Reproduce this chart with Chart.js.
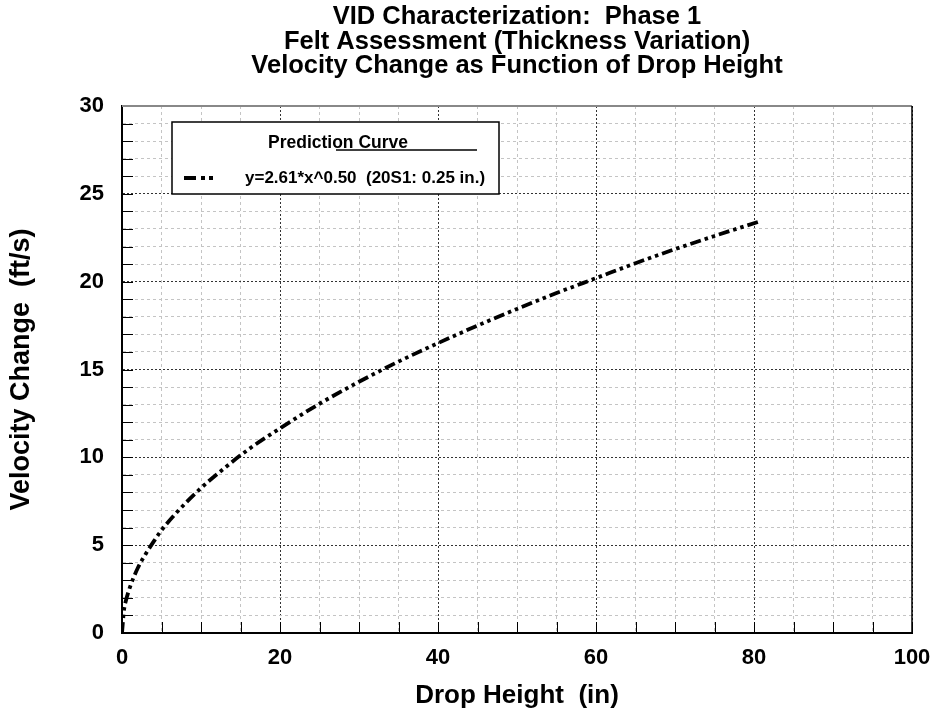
<!DOCTYPE html>
<html>
<head>
<meta charset="utf-8">
<title>VID Characterization: Phase 1</title>
<script src="https://cdn.jsdelivr.net/npm/chart.js@4.4.1/dist/chart.umd.min.js"></script>
<style>
  html, body { margin: 0; padding: 0; background: #fff; }
  #wrap { width: 933px; height: 713px; }
</style>
</head>
<body>
<div id="wrap"><canvas id="vid-chart" width="933" height="713"></canvas></div>
<script>
  // Values
  const dropHeights = [0, 0.25, 0.5, 1, 2, 3, 4, 5, 7, 10, 13, 16, 20, 25, 30, 35, 40, 45, 50, 55, 60, 65, 70, 75, 80.5];
  const velocityChanges = [0, 1.3, 1.85, 2.6, 3.7, 4.5, 5.2, 5.85, 6.9, 8.25, 9.4, 10.45, 11.65, 13.05, 14.3, 15.45, 16.5, 17.5, 18.45, 19.35, 20.2, 21.05, 21.85, 22.6, 23.4];
  const xTickLabels = [0, 20, 40, 60, 80, 100];
  const yTickLabels = [0, 5, 10, 15, 20, 25, 30];

  const titleLines = [
    'VID Characterization:  Phase 1',
    'Felt Assessment (Thickness Variation)',
    'Velocity Change as Function of Drop Height'
  ];
  const legendTitle = 'Prediction Curve';
  const seriesLabel = 'y=2.61*x^0.50  (20S1: 0.25 in.)';

  const FONT = '"Liberation Sans", Arial, Helvetica, sans-serif';
  const CURVE_DASH = [11, 4, 3.5, 4, 3.5, 4];

  Chart.defaults.color = '#000';
  Chart.defaults.font.family = FONT;

  function isMajor(ctx, step) {
    return ctx.tick && Math.abs(ctx.tick.value % step) < 1e-9;
  }

  /**
   * Three-line title, centred over the plot area
   */
  const plotTitle = {
    id: 'plotTitle',
    afterDraw(chart) {
      const { ctx, chartArea: a } = chart;
      const cx = (a.left + a.right) / 2;
      ctx.save();
      ctx.fillStyle = '#000';
      ctx.font = 'bold 25.5px ' + FONT;
      ctx.textAlign = 'center';
      ctx.textBaseline = 'middle';
      titleLines.forEach((line, i) => ctx.fillText(line, cx, 17 + i * 24.5));
      ctx.restore();
    }
  };

  /**
   * Short tick marks pointing into the plot, plus top/right frame
   */
  const frameTicks = {
    id: 'frameTicks',
    afterDatasetsDraw(chart) {
      const { ctx, chartArea: a, scales: { x, y } } = chart;
      ctx.save();
      ctx.strokeStyle = '#000';
      ctx.lineWidth = 1;
      ctx.beginPath();
      x.ticks.forEach(t => {
        const px = Math.round(x.getPixelForValue(t.value)) + 0.5;
        ctx.moveTo(px, a.bottom);
        ctx.lineTo(px, a.bottom - 11);
      });
      y.ticks.forEach(t => {
        const py = Math.round(y.getPixelForValue(t.value)) + 0.5;
        ctx.moveTo(a.left, py);
        ctx.lineTo(a.left + 11, py);
      });
      ctx.stroke();

      // top edge (grey) and right edge
      ctx.strokeStyle = '#888';
      ctx.lineWidth = 2;
      ctx.beginPath();
      ctx.moveTo(a.left, a.top);
      ctx.lineTo(a.right, a.top);
      ctx.stroke();
      ctx.strokeStyle = '#000';
      ctx.lineWidth = 1.5;
      ctx.beginPath();
      ctx.moveTo(a.right, a.top);
      ctx.lineTo(a.right, a.bottom);
      ctx.stroke();
      ctx.restore();
    }
  };

  /**
   * Boxed legend in the upper left of the plot
   */
  const boxLegend = {
    id: 'boxLegend',
    afterDraw(chart) {
      const { ctx, chartArea: a } = chart;
      const ds = chart.data.datasets[0];
      const left = a.left + 50, top = a.top + 16, w = 327, h = 72;

      ctx.save();
      ctx.fillStyle = '#fff';
      ctx.fillRect(left, top, w, h);
      ctx.strokeStyle = '#000';
      ctx.lineWidth = 1.5;
      ctx.strokeRect(left, top, w, h);

      ctx.fillStyle = '#000';
      ctx.textBaseline = 'middle';
      ctx.font = 'bold 17.5px ' + FONT;
      ctx.textAlign = 'center';
      ctx.fillText(legendTitle, left + 166, top + 21);

      // underline
      ctx.lineWidth = 1.5;
      ctx.beginPath();
      ctx.moveTo(left + 164, top + 28);
      ctx.lineTo(left + 305, top + 28);
      ctx.stroke();

      // line sample
      ctx.lineWidth = ds.borderWidth;
      ctx.setLineDash([12, 5, 4, 4, 4]);
      ctx.beginPath();
      ctx.moveTo(left + 12, top + 56);
      ctx.lineTo(left + 41, top + 56);
      ctx.stroke();
      ctx.setLineDash([]);

      ctx.font = 'bold 17px ' + FONT;
      ctx.textAlign = 'left';
      ctx.fillText(ds.label, left + 73, top + 56);
      ctx.restore();
    }
  };

  const ctx = document.getElementById('vid-chart').getContext('2d');

  new Chart(ctx, {
    type: 'line',
    data: {
      datasets: [{
        label: seriesLabel,
        data: dropHeights.map((h, i) => ({ x: h, y: velocityChanges[i] })),
        borderColor: '#000',
        borderWidth: 3.8,
        borderDash: CURVE_DASH,
        pointRadius: 0,
        fill: false,
        cubicInterpolationMode: 'monotone'
      }]
    },
    options: {
      responsive: false,
      devicePixelRatio: 1,
      animation: false,
      layout: { padding: { left: 0, right: 21, top: 106, bottom: 0 } },
      scales: {
        x: {
          type: 'linear',
          min: 0,
          max: 100,
          afterFit: (scale) => {
            scale.height = 80;
            scale.paddingLeft = 0;
            scale.paddingRight = 0;
          },
          ticks: {
            stepSize: 5,
            autoSkip: false,
            maxRotation: 0,
            padding: 12,
            font: { size: 22, weight: 'bold' },
            callback: (v) => xTickLabels.includes(v) ? String(v) : ''
          },
          grid: {
            drawTicks: false,
            lineWidth: 1,
            color: (c) => isMajor(c, 20) ? '#333' : '#c4c4c4'
          },
          border: {
            display: true,
            color: '#000',
            width: 2,
            dash: (c) => isMajor(c, 20) ? [2, 2] : [3, 3]
          },
          title: {
            display: true,
            text: 'Drop Height  (in)',
            font: { size: 26, weight: 'bold' },
            padding: { top: 0, bottom: 2 }
          }
        },
        y: {
          min: 0,
          max: 30,
          afterFit: (scale) => {
            scale.width = 122;
            scale.paddingTop = 0;
            scale.paddingBottom = 0;
          },
          ticks: {
            stepSize: 1,
            autoSkip: false,
            padding: 18,
            font: { size: 22, weight: 'bold' },
            callback: (v) => yTickLabels.includes(v) ? String(v) : ''
          },
          grid: {
            drawTicks: false,
            lineWidth: 1,
            color: (c) => isMajor(c, 5) ? '#333' : '#c4c4c4'
          },
          border: {
            display: true,
            color: '#000',
            width: 2,
            dash: (c) => isMajor(c, 5) ? [2, 2] : [3, 3]
          },
          title: {
            display: true,
            text: 'Velocity Change  (ft/s)',
            font: { size: 27, weight: 'bold' },
            padding: { top: 5, bottom: 0 }
          }
        }
      },
      plugins: {
        legend: { display: false },
        tooltip: { enabled: false },
        title: { display: false }
      }
    },
    plugins: [plotTitle, frameTicks, boxLegend]
  });
</script>
</body>
</html>
